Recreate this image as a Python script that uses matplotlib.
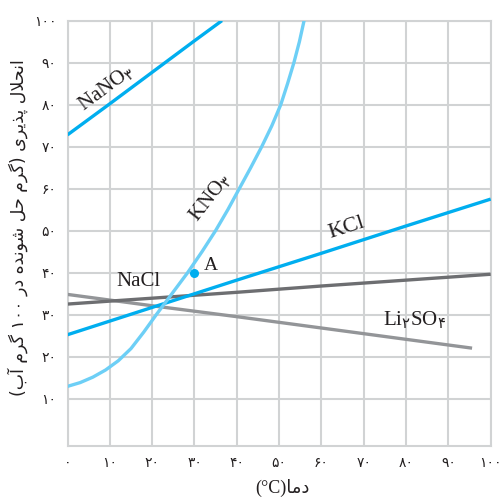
import matplotlib
matplotlib.use("Agg")
import matplotlib.pyplot as plt

plt.rcParams['mathtext.fontset'] = 'custom'
plt.rcParams['mathtext.rm'] = 'Liberation Serif'
plt.rcParams['mathtext.sf'] = 'DejaVu Sans'

# data (temperature in C, solubility g / 100 g water)
nano3_t = [0, 10, 20, 30, 36.5]
nano3_s = [72.8, 80.2, 87.7, 95.2, 100]

kno3_t = [0, 3, 6, 9, 12, 15, 18, 21.0, 24.7, 28.4, 31.8, 35.0, 37.9, 40.6,
          43.3, 45.9, 48.3, 50.4, 52.0, 53.5, 54.8, 55.9]
kno3_s = [12.9, 13.8, 15.1, 16.8, 19.0, 21.9, 25.8, 30, 35, 40, 45, 50, 55, 60,
          65, 70, 75, 80, 85, 90, 95, 100]

kcl_t = [0, 20, 40, 60, 80, 100]
kcl_s = [25.2, 31.7, 38.2, 44.6, 51.1, 57.5]

nacl_t = [0, 20, 40, 60, 80, 100]
nacl_s = [32.5, 33.9, 35.3, 36.8, 38.2, 39.6]

li2so4_t = [0, 20, 40, 60, 80, 95.6]
li2so4_s = [34.8, 32.1, 29.5, 26.8, 24.1, 22.0]

point_a = (30, 40)

x_ticks = [0, 10, 20, 30, 40, 50, 60, 70, 80, 90, 100]
y_ticks = [10, 20, 30, 40, 50, 60, 70, 80, 90, 100]

blue = '#00aeef'
light_blue = '#6dcff6'
dark_gray = '#6d6e71'
light_gray = '#939598'
grid_col = '#d1d3d4'

# --- tiny persian shaper (matplotlib has no text shaping) ---
FORMS = {
    'ا': ('\uFE8D', '\uFE8E'),
    'آ': ('\uFE81', '\uFE82'),
    'د': ('\uFEA9', '\uFEAA'),
    'ذ': ('\uFEAB', '\uFEAC'),
    'ر': ('\uFEAD', '\uFEAE'),
    'و': ('\uFEED', '\uFEEE'),
    'ب': ('\uFE8F', '\uFE90', '\uFE91', '\uFE92'),
    'پ': ('\uFB56', '\uFB57', '\uFB58', '\uFB59'),
    'ح': ('\uFEA1', '\uFEA2', '\uFEA3', '\uFEA4'),
    'ش': ('\uFEB5', '\uFEB6', '\uFEB7', '\uFEB8'),
    'گ': ('\uFB92', '\uFB93', '\uFB94', '\uFB95'),
    'ل': ('\uFEDD', '\uFEDE', '\uFEDF', '\uFEE0'),
    'م': ('\uFEE1', '\uFEE2', '\uFEE3', '\uFEE4'),
    'ن': ('\uFEE5', '\uFEE6', '\uFEE7', '\uFEE8'),
    'ه': ('\uFEE9', '\uFEEA', '\uFEEB', '\uFEEC'),
    'ی': ('\uFBFC', '\uFBFD', '\uFBFE', '\uFBFF'),
}


def shape(word):
    out = []
    prev_joins = False
    i = 0
    while i < len(word):
        c = word[i]
        nxt = word[i + 1] if i + 1 < len(word) else ''
        if c == 'ل' and nxt in ('ا', 'آ'):
            out.append('\uFEFC' if prev_joins else '\uFEFB')
            prev_joins = False
            i += 2
            continue
        f = FORMS[c]
        next_joins = len(f) == 4 and nxt in FORMS
        if prev_joins and next_joins:
            g = f[3]
        elif prev_joins:
            g = f[1]
        elif next_joins:
            g = f[2]
        else:
            g = f[0]
        out.append(g)
        prev_joins = len(f) == 4
        i += 1
    return ''.join(reversed(out))


fa_digits = str.maketrans('0123456789', '۰۱۲۳۴۵۶۷۸۹')


def fa(n):
    return str(n).translate(fa_digits)


ylabel = ('(' + shape('آب') + ' ' + shape('گرم') + ' ' + fa(100) + ' ' + shape('در') + ' '
          + shape('شونده') + ' ' + shape('حل') + ' ' + shape('گرم') + ') '
          + shape('پذیری') + ' ' + shape('انحلال'))
xlabel = '(°C)' + shape('دما')

fig = plt.figure(figsize=(5, 5.01), dpi=100)
ax = fig.add_axes([0.135, 0.1098, 0.8464, 0.849])

lw = 2.4
ax.plot(li2so4_t, li2so4_s, color=light_gray, lw=lw, solid_capstyle='butt', zorder=3)
ax.plot(nacl_t, nacl_s, color=dark_gray, lw=lw, solid_capstyle='butt', zorder=4)
ax.plot(kcl_t, kcl_s, color=blue, lw=lw, solid_capstyle='butt', zorder=5)
ax.plot(nano3_t, nano3_s, color=blue, lw=lw, solid_capstyle='butt', zorder=5)
ax.plot(kno3_t, kno3_s, color=light_blue, lw=lw, solid_capstyle='butt',
        solid_joinstyle='round', zorder=6)
ax.plot([point_a[0]], [point_a[1]], 'o', color=blue, ms=5.5, zorder=7)

ax.set_xlim(0, 100)
ax.set_ylim(-1.3, 100)
ax.set_xticks(x_ticks)
ax.set_yticks(y_ticks)
ax.set_xticklabels([fa(v) for v in x_ticks], family='DejaVu Sans', fontsize=10)
ax.set_yticklabels([fa(v) for v in y_ticks], family='DejaVu Sans', fontsize=10)
ax.tick_params(length=0, colors='#231f20')
ax.tick_params(axis='x', pad=7)
ax.tick_params(axis='y', pad=8)
ax.grid(True, color=grid_col, lw=1.5)
ax.set_axisbelow(True)
for s in ax.spines.values():
    s.set_color(grid_col)
    s.set_linewidth(1.5)

serif = 'Liberation Serif'
tc = '#231f20'
ax.text(9.1, 84, r'NaNO$_\mathsf{۳}$', family=serif, fontsize=15, color=tc,
        rotation=36.5, ha='center', va='center', rotation_mode='anchor')
ax.text(33.7, 57.8, r'KNO$_\mathsf{۳}$', family=serif, fontsize=15, color=tc,
        rotation=52, ha='center', va='center', rotation_mode='anchor')
ax.text(66, 50.6, 'KCl', family=serif, fontsize=16, color=tc,
        rotation=17.8, ha='center', va='center', rotation_mode='anchor')
ax.text(11.6, 36.8, 'NaCl', family=serif, fontsize=15, color=tc, ha='left', va='baseline')
ax.text(74.5, 27.5, r'Li$_\mathsf{۲}$SO$_\mathsf{۴}$', family=serif, fontsize=15, color=tc,
        ha='left', va='baseline')
ax.text(32.3, 40.6, 'A', family=serif, fontsize=14, color=tc, ha='left', va='baseline')

fig.text(18 / 500, 1 - 228 / 501, ylabel, family='DejaVu Sans', fontsize=12.5, color=tc,
         rotation=90, ha='center', va='center')
fig.text(282 / 500, 1 - 488 / 501, xlabel, family=[serif, 'DejaVu Sans'], fontsize=13,
         color=tc, ha='center', va='center')

fig.savefig('out.png', dpi=100)
